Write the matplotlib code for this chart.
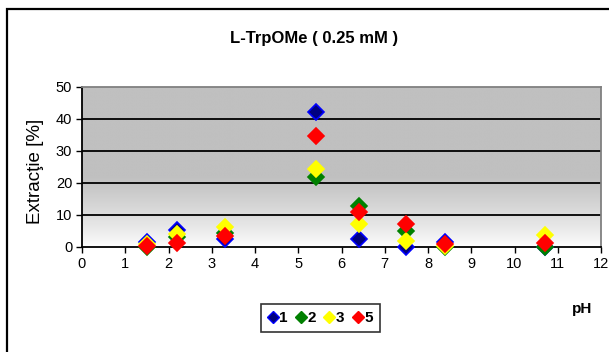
import numpy as np
import matplotlib.pyplot as plt
from matplotlib.patches import Rectangle
from matplotlib.lines import Line2D

plt.rcParams['font.family'] = ['Liberation Sans', 'DejaVu Sans']

# pH values
ph = [1.5, 2.2, 3.3, 5.4, 6.4, 7.5, 8.4, 10.7]

# extraction [%] per series
s1 = [1.6, 5.2, 2.4, 42.2, 2.4, 0.0, 1.7, 0.0]
s2 = [0.0, 3.0, 4.3, 21.8, 12.9, 5.1, 0.0, 0.0]
s3 = [1.0, 4.0, 6.3, 24.4, 7.1, 1.8, 0.2, 3.6]
s5 = [0.2, 1.4, 3.4, 34.6, 11.0, 7.2, 0.9, 1.4]

series = [
    ('1', s1, '#000080', '#0000FF'),
    ('2', s2, '#008000', '#008000'),
    ('3', s3, '#FFFF00', '#FFFF00'),
    ('5', s5, '#FF0000', '#FF0000'),
]

W, H = 609, 352
fig = plt.figure(figsize=(W / 100, H / 100), dpi=100)
fig.patch.set_facecolor('white')

# outer chart border (cut off at right and bottom)
fig.patches.append(Rectangle((7 / W, -0.1), 1.2, 1 - 9 / H + 0.1,
                             transform=fig.transFigure, fill=False,
                             edgecolor='black', linewidth=1.6))

ax = fig.add_axes([82 / W, 1 - 247 / H, (601 - 82) / W, (247 - 87) / H])
ax.set_xlim(0, 12)
ax.set_ylim(0, 50)

# gradient background: grey at top fading to white at the bottom
yy = np.linspace(50, 0, 300)
t = np.clip(yy / 22.0, 0, 1) ** 0.8
g = 1.0 - (1.0 - 0xC0 / 255) * t
img = np.repeat(g[:, None], 2, axis=1)
ax.imshow(np.dstack([img, img, img]), extent=[0, 12, 0, 50], aspect='auto',
          zorder=0, interpolation='bilinear')

for v in [10, 20, 30, 40]:
    ax.axhline(v, color='black', linewidth=1.3, zorder=1)

for name, vals, fc, ec in series:
    ax.plot(ph, vals, linestyle='none', marker='D', markersize=8,
            markerfacecolor=fc, markeredgecolor=ec, markeredgewidth=1.2,
            zorder=3, clip_on=False)

ax.set_xticks(range(0, 13))
ax.set_yticks(range(0, 51, 10))
ax.tick_params(direction='out', length=4, width=1, labelsize=10.5, pad=3)
for side in ['top', 'right']:
    ax.spines[side].set_color('#808080')
    ax.spines[side].set_linewidth(1.3)
for side in ['left', 'bottom']:
    ax.spines[side].set_color('black')
    ax.spines[side].set_linewidth(1.3)

fig.text(35 / W, 1 - 171 / H, 'Extracţie [%]', rotation=90,
         ha='center', va='center', fontsize=13.5)
fig.text(314 / W, 1 - 38 / H, 'L-TrpOMe ( 0.25 mM )',
         ha='center', va='center', fontsize=12, fontweight='bold')
fig.text(582 / W, 1 - 309 / H, 'pH', ha='center', va='center',
         fontsize=11, fontweight='bold')

handles = [Line2D([], [], linestyle='none', marker='D', markersize=6,
                  markerfacecolor=fc, markeredgecolor=ec)
           for _, _, fc, ec in series]
leg = fig.legend(handles, [s[0] for s in series], ncol=4,
                 loc='center', bbox_to_anchor=(320.5 / W, 1 - 318 / H),
                 frameon=True, fancybox=False, handlelength=0.6,
                 handletextpad=0.15, columnspacing=0.55, borderpad=0.45,
                 prop={'weight': 'bold', 'size': 11})
leg.get_frame().set_edgecolor('black')
leg.get_frame().set_linewidth(1.2)

fig.savefig('out.png', dpi=100)
